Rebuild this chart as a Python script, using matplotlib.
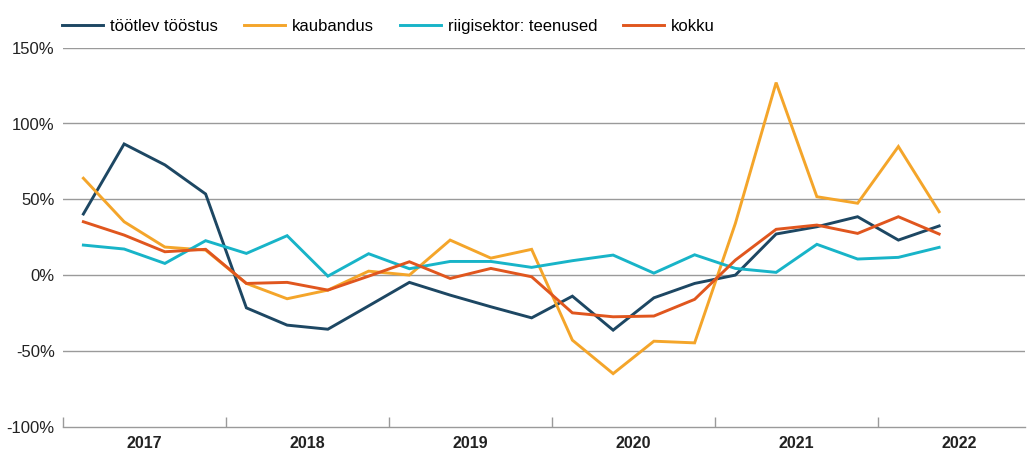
import matplotlib
matplotlib.use("Agg")
import matplotlib.pyplot as plt
import numpy as np

quarters = ["2017Q1","2017Q2","2017Q3","2017Q4","2018Q1","2018Q2","2018Q3","2018Q4",
            "2019Q1","2019Q2","2019Q3","2019Q4","2020Q1","2020Q2","2020Q3","2020Q4",
            "2021Q1","2021Q2","2021Q3","2021Q4","2022Q1","2022Q2"]
years = ["2017", "2018", "2019", "2020", "2021", "2022"]

tootlev = [40.3, 86.5, 72.7, 53.5, -21.6, -33.0, -35.7, -20.3,
           -4.8, -13.2, -20.9, -28.2, -13.9, -36.3, -15.0, -5.5,
           0.0, 27.1, 31.9, 38.5, 23.1, 32.4]
kaubandus = [63.9, 35.2, 18.5, 16.5, -5.5, -15.6, -9.9, 2.6,
             0.0, 23.1, 11.2, 17.0, -42.9, -65.0, -43.6, -44.7,
             34.1, 127.0, 51.7, 47.4, 84.8, 41.8]
riigisektor = [19.8, 17.2, 7.7, 22.7, 14.3, 26.0, -0.7, 14.1,
               4.2, 9.0, 9.0, 5.1, 9.5, 13.2, 1.3, 13.4,
               4.4, 1.8, 20.3, 10.6, 11.7, 18.3]
kokku = [35.2, 26.4, 15.4, 17.0, -5.5, -4.8, -9.9, -0.7,
         8.8, -2.2, 4.4, -1.1, -24.9, -27.5, -27.0, -16.0,
         9.9, 30.2, 33.0, 27.5, 38.5, 27.1]

series = [("töötlev tööstus", tootlev, "#1d4763"),
          ("kaubandus", kaubandus, "#f4a52a"),
          ("riigisektor: teenused", riigisektor, "#18b4c8"),
          ("kokku", kokku, "#e0561e")]

plt.rcParams['font.family'] = ['Liberation Sans', 'DejaVu Sans']

fig = plt.figure(figsize=(10.27, 4.51), dpi=100)
ax = fig.add_axes([63/1027, 1-426.7/451, (1025-63)/1027, (426.7-47.7)/451])

x = np.arange(len(quarters)) + 0.5
for name, vals, col in series:
    ax.plot(x, vals, color=col, lw=2.1, label=name, solid_joinstyle='miter', zorder=3)

ax.set_xlim(0, (1025-63)/40.75)
ax.set_ylim(-100, 150)
yt = [-100, -50, 0, 50, 100, 150]
ax.set_yticks(yt)
ax.set_yticklabels([f"{v}%" for v in yt], fontsize=12, color="#222222")
for v in yt[1:]:
    ax.axhline(v, color="#9a9a9a", lw=1.0, zorder=1)

for s in ["top", "right", "left"]:
    ax.spines[s].set_visible(False)
ax.spines["bottom"].set_color("#9a9a9a")
ax.spines["bottom"].set_linewidth(1.0)
ax.tick_params(axis='y', length=0, pad=6)

# year boundaries ticks
ax.set_xticks([0, 4, 8, 12, 16, 20])
ax.set_xticklabels([])
ax.tick_params(axis='x', which='major', direction='in', length=7, color="#9a9a9a", width=1.0)
ax.set_xticks([2, 6, 10, 14, 18, 22], minor=True)
ax.set_xticklabels(years, minor=True, fontsize=11.5, fontweight='bold', color="#222222")
ax.tick_params(axis='x', which='minor', length=0, pad=7)

fig.legend(loc='upper left', bbox_to_anchor=(62/1027, 1-19/451), ncol=4, frameon=False,
           fontsize=12, handlelength=2.46, handletextpad=0.42, columnspacing=1.56,
           borderpad=0, borderaxespad=0)

fig.savefig("out.png", dpi=100)
